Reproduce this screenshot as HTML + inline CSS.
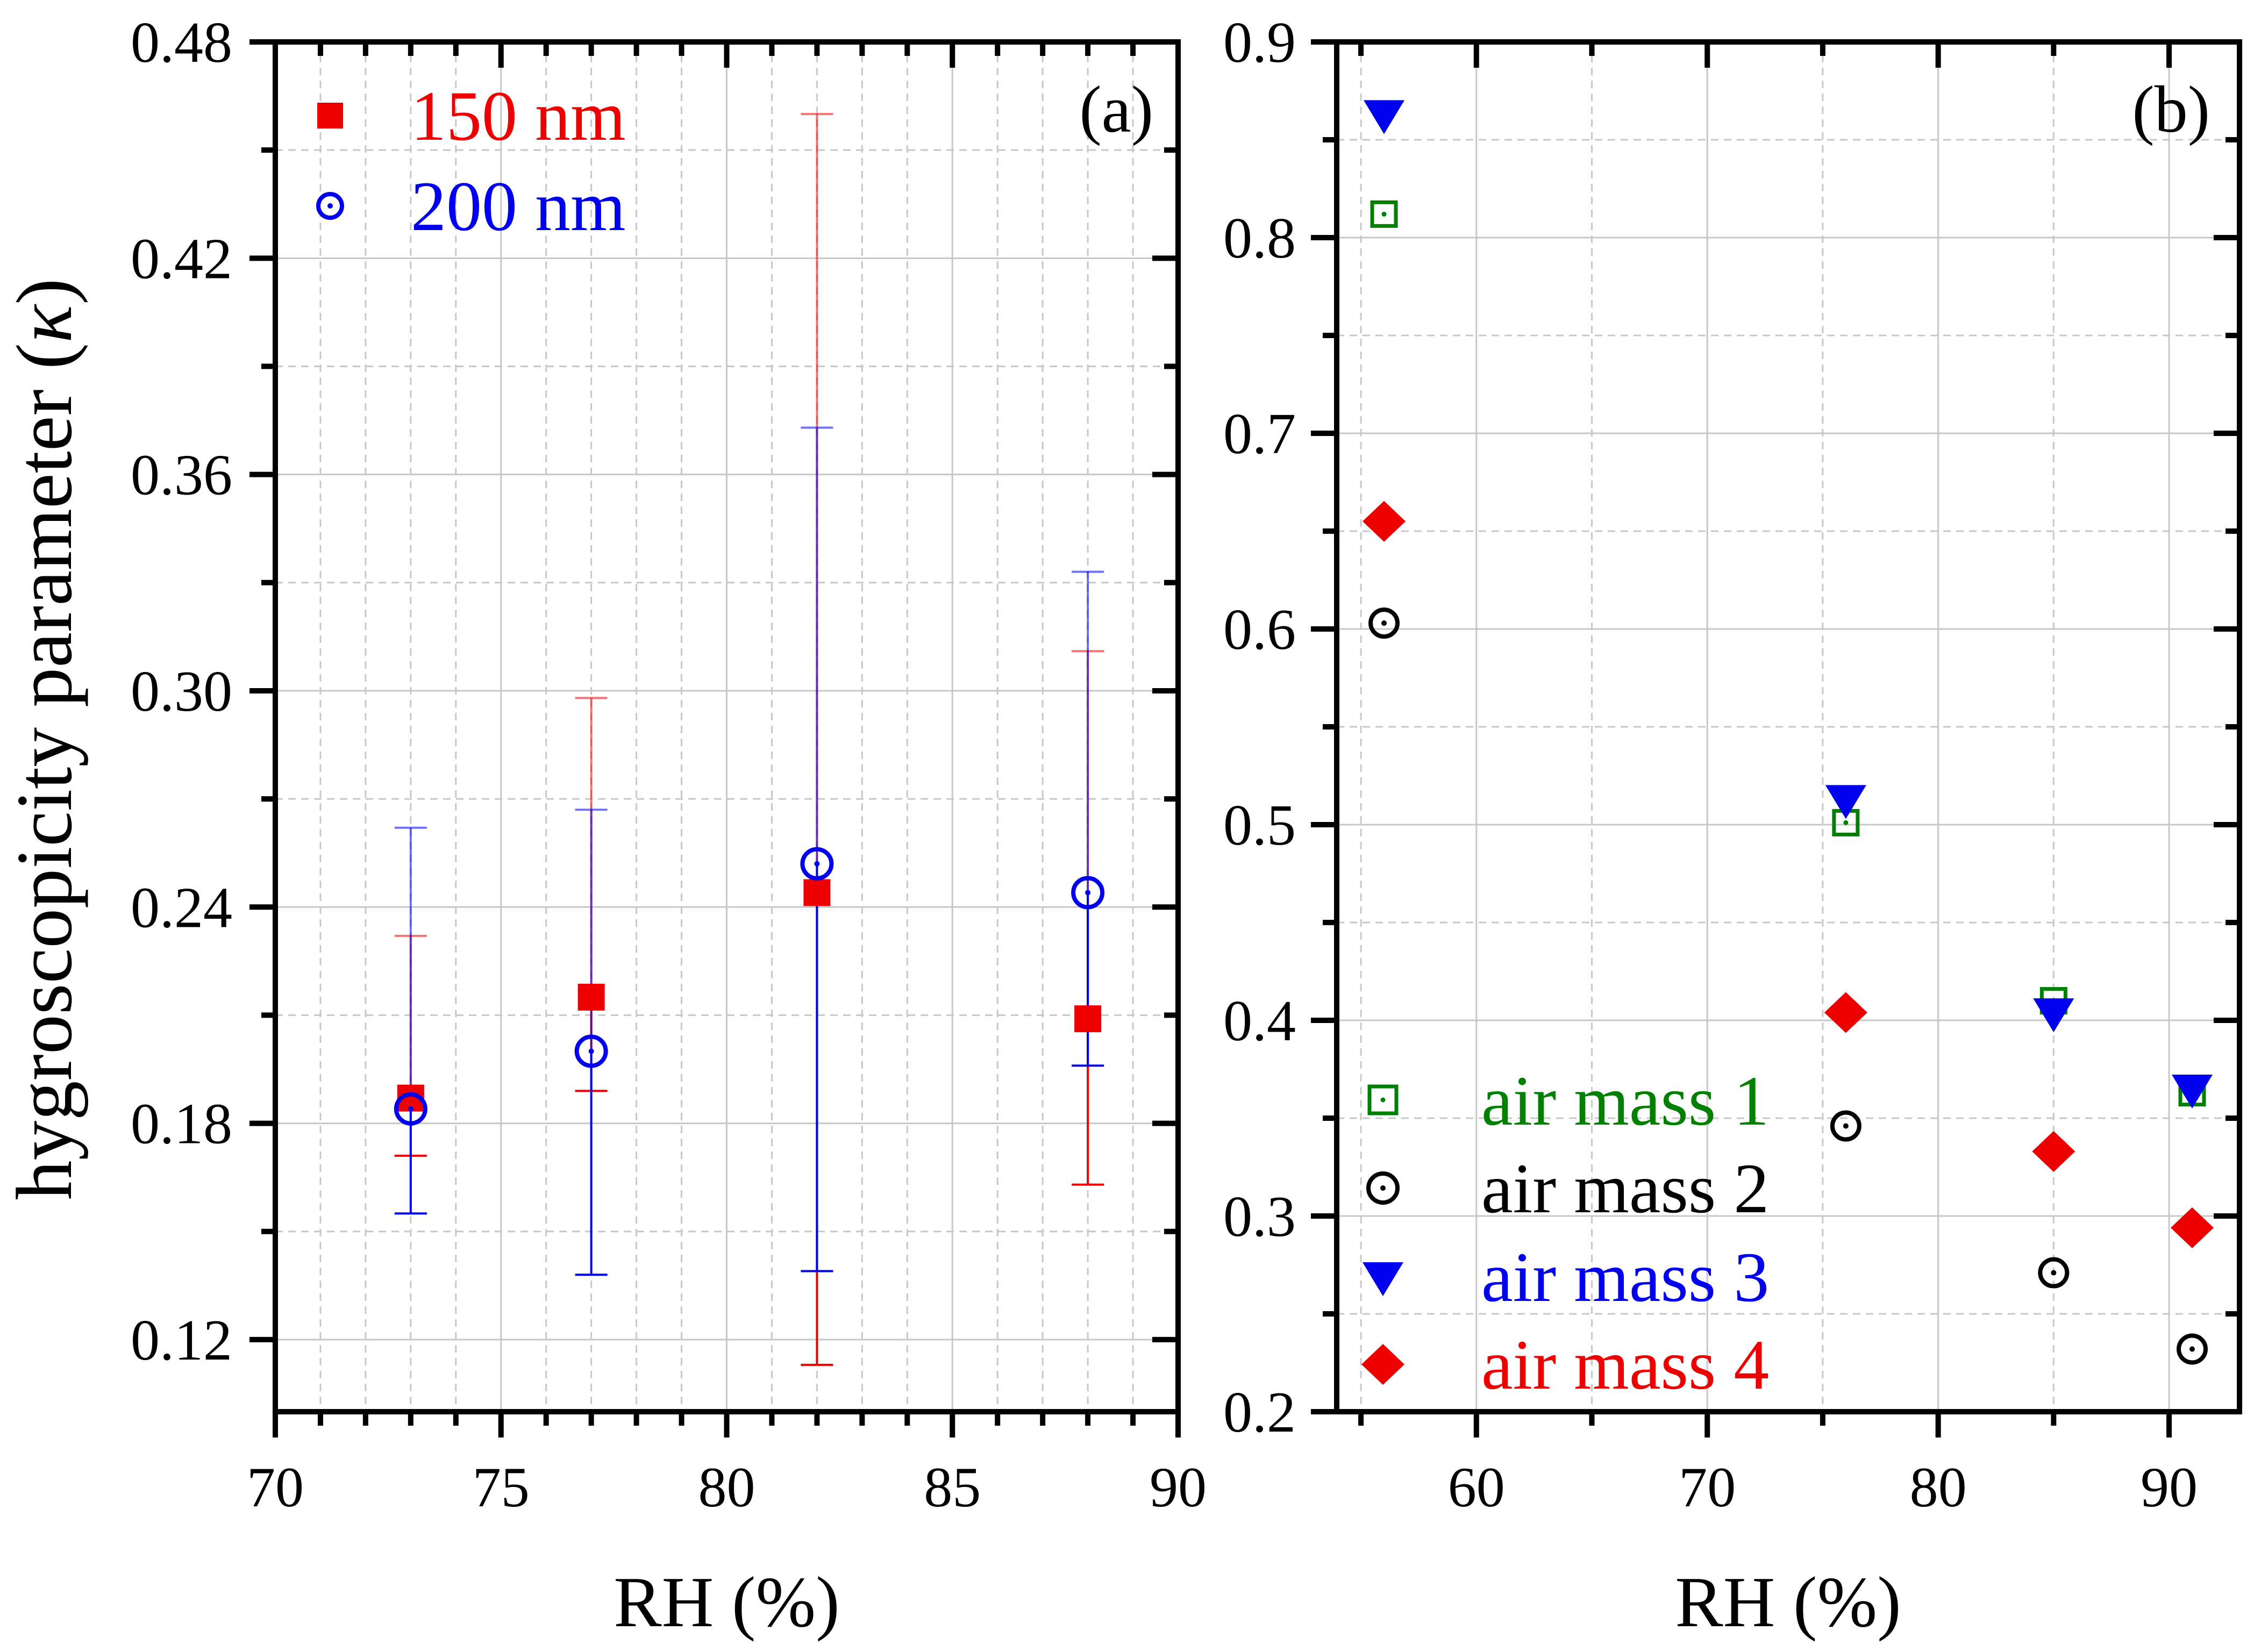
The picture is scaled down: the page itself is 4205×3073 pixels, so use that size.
<!DOCTYPE html>
<html><head><meta charset="utf-8"><style>
html,body{margin:0;padding:0;background:#fff;}
svg{display:block;font-family:"Liberation Serif",serif;}
</style></head><body>
<svg id="chart" width="4205" height="3073" viewBox="0 0 4205 3073" xmlns="http://www.w3.org/2000/svg">
<g id="pa"></g>
<g id="pb"></g>
</svg>
<script>
// Panel (a) data
const aX = [73, 77, 82, 88];
const a150 = [0.187, 0.215, 0.244, 0.209];
const a150Up = [0.232, 0.298, 0.460, 0.311];
const a150Lo = [0.171, 0.189, 0.113, 0.163];
const a200 = [0.184, 0.200, 0.252, 0.244];
const a200Up = [0.262, 0.267, 0.373, 0.333];
const a200Lo = [0.155, 0.138, 0.139, 0.196];
const aXTicks = [70, 75, 80, 85, 90];
const aYTicks = ["0.12", "0.18", "0.24", "0.30", "0.36", "0.42", "0.48"];
// Panel (b) data
const bX = [56, 76, 85, 91];
const am1 = [0.812, 0.501, 0.410, 0.363];
const am2 = [0.603, 0.346, 0.271, 0.232];
const am3 = [0.862, 0.512, 0.403, 0.364];
const am4 = [0.655, 0.404, 0.333, 0.294];
const bXTicks = [60, 70, 80, 90];
const bYTicks = ["0.2", "0.3", "0.4", "0.5", "0.6", "0.7", "0.8", "0.9"];

const NS = "http://www.w3.org/2000/svg";
function mk(parent, tag, attrs, text) {
  const e = document.createElementNS(NS, tag);
  for (const k in attrs) e.setAttribute(k, attrs[k]);
  if (text !== undefined) e.textContent = text;
  parent.appendChild(e);
  return e;
}
const Y0 = 78, Y1 = 2626;
function lin(d0, d1, r0, r1) { return v => r0 + (v - d0) / (d1 - d0) * (r1 - r0); }

function frame(g, X0, X1, sx, sy, xmin, xmax, ymaj, ymin, xmaj, xminT, yLabels, xLabels, labelRight) {
  xminT.forEach(v => { const l = mk(g, "line", {x1: sx(v), x2: sx(v), y1: Y0, y2: Y1, stroke: "#c8c8c8", "stroke-width": 3, "stroke-dasharray": "14 10"});   });
  xmaj.forEach(v => { const l = mk(g, "line", {x1: sx(v), x2: sx(v), y1: Y0, y2: Y1, stroke: "#c8c8c8", "stroke-width": 3});   });
  ymin.forEach(v => { const l = mk(g, "line", {x1: X0, x2: X1, y1: sy(v), y2: sy(v), stroke: "#c8c8c8", "stroke-width": 3, "stroke-dasharray": "14 10"});   });
  ymaj.forEach(v => { const l = mk(g, "line", {x1: X0, x2: X1, y1: sy(v), y2: sy(v), stroke: "#c8c8c8", "stroke-width": 3});   });
  const T = {stroke: "#000", "stroke-width": 10};
  ymaj.forEach((v, i) => {
    const y = sy(v);
    let t = mk(g, "line", Object.assign({x1: X0 - 48, x2: X0, y1: y, y2: y}, T));  
    t = mk(g, "line", Object.assign({x1: X1 - 48, x2: X1, y1: y, y2: y}, T));  
    const lb = mk(g, "text", {x: labelRight, y: y + 37, "font-size": 108, "text-anchor": "end"}, yLabels[i]);
     
  });
  ymin.forEach(v => {
    const y = sy(v);
    let t = mk(g, "line", Object.assign({x1: X0 - 26, x2: X0, y1: y, y2: y}, T));  
    t = mk(g, "line", Object.assign({x1: X1 - 26, x2: X1, y1: y, y2: y}, T));  
  });
  xmaj.forEach((v, i) => {
    const x = sx(v);
    let t = mk(g, "line", Object.assign({x1: x, x2: x, y1: Y1, y2: Y1 + 48}, T));  
    t = mk(g, "line", Object.assign({x1: x, x2: x, y1: Y0, y2: Y0 + 48}, T));  
    const lb = mk(g, "text", {x: x, y: 2802, "font-size": 106, "text-anchor": "middle"}, xLabels[i]);
     
  });
  xminT.forEach(v => {
    const x = sx(v);
    let t = mk(g, "line", Object.assign({x1: x, x2: x, y1: Y1, y2: Y1 + 26}, T));  
    t = mk(g, "line", Object.assign({x1: x, x2: x, y1: Y0, y2: Y0 + 26}, T));  
  });
  const r = mk(g, "rect", {x: X0, y: Y0, width: X1 - X0, height: Y1 - Y0, fill: "none", stroke: "#000", "stroke-width": 10});
   
  const xt = mk(g, "text", {x: (X0 + X1) / 2, y: 3025, "font-size": 134, "text-anchor": "middle"}, "RH (%)");
   
}

function circleMark(g, x, y, color, r, name) {
  const c = mk(g, "circle", {cx: x, cy: y, r: r, fill: "none", stroke: color, "stroke-width": 8});
   
  const d = mk(g, "circle", {cx: x, cy: y, r: 5, fill: color});
   
}
function squareOpen(g, x, y, color, s, name) {
  const c = mk(g, "rect", {x: x - s / 2, y: y - s / 2, width: s, height: s, fill: "none", stroke: color, "stroke-width": 7});
   
  const d = mk(g, "circle", {cx: x, cy: y, r: 4.5, fill: color});
   
}
function squareFill(g, x, y, color, s, name) {
  const c = mk(g, "rect", {x: x - s / 2, y: y - s / 2, width: s, height: s, fill: color});
   
}
function triDown(g, x, y, color, name) {
  const c = mk(g, "polygon", {points: `${x-38},${y-30} ${x+38},${y-30} ${x},${y+33}`, fill: color});
   
}
function diamond(g, x, y, color, name) {
  const c = mk(g, "polygon", {points: `${x-40},${y} ${x},${y-38} ${x+40},${y} ${x},${y+38}`, fill: color});
   
}

// ---------- Panel a ----------
(function () {
  const g = document.getElementById("pa");
  const X0 = 512, X1 = 2191;
  const sx = lin(70, 90, X0, X1), sy = lin(0.10, 0.48, Y1, Y0);
  const ymaj = [0.12, 0.18, 0.24, 0.30, 0.36, 0.42, 0.48];
  const ymin = [0.15, 0.21, 0.27, 0.33, 0.39, 0.45];
  const xminT = [];
  for (let v = 71; v < 90; v++) if (v % 5) xminT.push(v);
  frame(g, X0, X1, sx, sy, 70, 90, ymaj, ymin, aXTicks, xminT, aYTicks, aXTicks.map(String), 432);
  const yt = mk(g, "text", {x: 0, y: 0, "font-size": 148, "text-anchor": "middle", transform: "translate(132,1375) rotate(-90)"});
   
  yt.innerHTML = 'hygroscopicity parameter (<tspan font-style="italic">κ</tspan>)';
  function errbar(x, v, up, lo, color, name) {
    const X = sx(x);
    let l = mk(g, "line", {x1: X, x2: X, y1: sy(v), y2: sy(up), stroke: color, "stroke-width": 4, "stroke-opacity": 0.55});
     
    l = mk(g, "line", {x1: X - 30, x2: X + 30, y1: sy(up), y2: sy(up), stroke: color, "stroke-width": 4, "stroke-opacity": 0.55});
     
    l = mk(g, "line", {x1: X, x2: X, y1: sy(v), y2: sy(lo), stroke: color, "stroke-width": 4});
     
    l = mk(g, "line", {x1: X - 30, x2: X + 30, y1: sy(lo), y2: sy(lo), stroke: color, "stroke-width": 4});
     
  }
  aX.forEach((x, i) => errbar(x, a150[i], a150Up[i], a150Lo[i], "#f00000", "errorbar-150nm"));
  aX.forEach((x, i) => errbar(x, a200[i], a200Up[i], a200Lo[i], "#0000f0", "errorbar-200nm"));
  aX.forEach((x, i) => squareFill(g, sx(x), sy(a150[i]), "#ee0000", 50, "point-150nm"));
  aX.forEach((x, i) => circleMark(g, sx(x), sy(a200[i]), "#0000ee", 27, "point-200nm"));
  squareFill(g, 614, 215, "#ee0000", 48, "legend-marker-150nm");
  circleMark(g, 614, 383, "#0000ee", 22, "legend-marker-200nm");
  let t = mk(g, "text", {x: 764, y: 260, "font-size": 132, fill: "#ee0000"}, "150 nm");
   
  t = mk(g, "text", {x: 764, y: 428, "font-size": 132, fill: "#0000ee"}, "200 nm");
   
  t = mk(g, "text", {x: 2145, y: 245, "font-size": 124, "text-anchor": "end"}, "(a)");
   
})();

// ---------- Panel b ----------
(function () {
  const g = document.getElementById("pb");
  const X0 = 2486, X1 = 4165;
  const sx = lin(53.95, 93.05, X0, X1), sy = lin(0.2, 0.9, Y1, Y0);
  const ymaj = [0.2, 0.3, 0.4, 0.5, 0.6, 0.7, 0.8, 0.9];
  const ymin = [0.25, 0.35, 0.45, 0.55, 0.65, 0.75, 0.85];
  frame(g, X0, X1, sx, sy, 54, 93, ymaj, ymin, bXTicks, [55, 65, 75, 85], bYTicks, bXTicks.map(String), 2410);
  bX.forEach((x, i) => squareOpen(g, sx(x), sy(am1[i]), "#008000", 44, "point-air-mass-1"));
  bX.forEach((x, i) => circleMark(g, sx(x), sy(am2[i]), "#000", 25, "point-air-mass-2"));
  bX.forEach((x, i) => triDown(g, sx(x), sy(am3[i]), "#0000ee", "point-air-mass-3"));
  bX.forEach((x, i) => diamond(g, sx(x), sy(am4[i]), "#ee0000", "point-air-mass-4"));
  const lx = 2572, tx = 2755;
  squareOpen(g, lx, 2046, "#008000", 50, "legend-marker-air-mass-1");
  circleMark(g, lx, 2210, "#000", 27, "legend-marker-air-mass-2");
  triDown(g, lx, 2378, "#0000ee", "legend-marker-air-mass-3");
  diamond(g, lx, 2538, "#ee0000", "legend-marker-air-mass-4");
  const labs = [["air mass 1", "#008000", 2092], ["air mass 2", "#000", 2255], ["air mass 3", "#0000ee", 2420], ["air mass 4", "#ee0000", 2583]];
  labs.forEach((l, i) => {
    const t = mk(g, "text", {x: tx, y: l[2], "font-size": 132, fill: l[1]}, l[0]);
     
  });
  const t = mk(g, "text", {x: 4110, y: 245, "font-size": 124, "text-anchor": "end"}, "(b)");
   
})();
</script>
</body></html>
